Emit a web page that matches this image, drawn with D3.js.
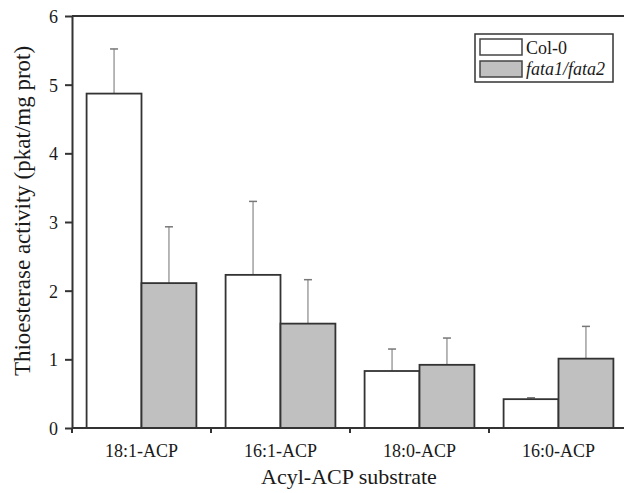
<!DOCTYPE html>
<meta charset="utf-8">
<script src="https://d3js.org/d3.v7.min.js"></script>
<style>
  body { margin: 0; background: #fff; }
  text { font-family: "Liberation Serif", "Times New Roman", serif; fill: #1a1a1a; }
</style>
<div id="dataviz"></div>
<script>

var categories = ["18:1-ACP", "16:1-ACP", "18:0-ACP", "16:0-ACP"];
var seriesNames = ["Col-0", "fata1/fata2"];
var col0 = [4.87, 2.23, 0.83, 0.42];
var col0Err = [0.65, 1.07, 0.32, 0.02];
var fata = [2.11, 1.52, 0.92, 1.01];
var fataErr = [0.82, 0.64, 0.39, 0.47];
var yTicks = [0, 1, 2, 3, 4, 5, 6];

var margin = {top: 16, right: -4, bottom: 65, left: 72},
    width = 624 - margin.left - margin.right,
    height = 493 - margin.top - margin.bottom;

var svg = d3.select("#dataviz")
  .append("svg")
    .attr("width", 624)
    .attr("height", 493)
  .append("g")
    .attr("transform", "translate(" + margin.left + "," + margin.top + ")");

var x = d3.scaleBand()
  .domain(categories)
  .range([0, width])
  .paddingInner(0.21)
  .paddingOuter(0.105);

var xSub = d3.scaleBand()
  .domain(seriesNames)
  .range([0, x.bandwidth()]);

var y = d3.scaleLinear()
  .domain([0, 6])
  .range([height, 0]);

var fills = {"Col-0": "#ffffff", "fata1/fata2": "#c0c0c0"};
var rows = categories.map(function(c, i) {
  return {cat: c, vals: [
    {s: "Col-0", v: col0[i], e: col0Err[i]},
    {s: "fata1/fata2", v: fata[i], e: fataErr[i]}
  ]};
});

// error bars (drawn first so bars cover the stem base)
var groups = svg.selectAll(".grp")
  .data(rows)
  .enter().append("g")
    .attr("transform", function(d) { return "translate(" + x(d.cat) + ",0)"; });

groups.selectAll(".err")
  .data(function(d) { return d.vals; })
  .enter().append("g")
  .each(function(d) {
    var g = d3.select(this);
    var cx = xSub(d.s) + xSub.bandwidth() / 2;
    g.append("line")
      .attr("x1", cx).attr("x2", cx)
      .attr("y1", y(d.v)).attr("y2", y(d.v + d.e))
      .attr("stroke", "#888").attr("stroke-width", 1.2);
    g.append("line")
      .attr("x1", cx - 4).attr("x2", cx + 4)
      .attr("y1", y(d.v + d.e)).attr("y2", y(d.v + d.e))
      .attr("stroke", "#777").attr("stroke-width", 1.5);
  });

groups.selectAll("rect")
  .data(function(d) { return d.vals; })
  .enter().append("rect")
    .attr("x", function(d) { return xSub(d.s); })
    .attr("y", function(d) { return y(d.v); })
    .attr("width", xSub.bandwidth())
    .attr("height", function(d) { return height - y(d.v); })
    .attr("fill", function(d) { return fills[d.s]; })
    .attr("stroke", "#333")
    .attr("stroke-width", 1.8);

// top frame line
svg.append("line")
  .attr("x1", 0).attr("x2", width)
  .attr("y1", 0).attr("y2", 0)
  .attr("stroke", "#333").attr("stroke-width", 2);

// Y axis
var yAxis = svg.append("g")
  .call(d3.axisLeft(y).tickValues(yTicks).tickFormat(d3.format("d"))
    .tickSize(7).tickPadding(7).tickSizeOuter(0));
yAxis.select(".domain").attr("stroke", "#333").attr("stroke-width", 2);
yAxis.selectAll(".tick line").attr("stroke", "#333").attr("stroke-width", 2);
yAxis.selectAll("text").style("font-size", "18px").attr("dy", "0.36em");

// X axis: ticks sit between the categories
var xAxis = svg.append("g")
  .attr("transform", "translate(0," + height + ")");
xAxis.append("line")
  .attr("x1", 0).attr("x2", width)
  .attr("stroke", "#333").attr("stroke-width", 2);
var bounds = categories.map(function(c, i) { return i * width / categories.length; });
bounds.push(width);
xAxis.selectAll(".xt")
  .data(bounds)
  .enter().append("line")
    .attr("x1", function(d) { return d; })
    .attr("x2", function(d) { return d; })
    .attr("y1", 0).attr("y2", 5)
    .attr("stroke", "#333").attr("stroke-width", 2);
xAxis.selectAll(".xl")
  .data(categories)
  .enter().append("text")
    .attr("x", function(d) { return x(d) + x.bandwidth() / 2; })
    .attr("y", 29)
    .attr("text-anchor", "middle")
    .style("font-size", "18px")
    .text(function(d) { return d; });

// axis titles
svg.append("text")
  .attr("x", 277)
  .attr("y", height + 56)
  .attr("text-anchor", "middle")
  .style("font-size", "22px")
  .text("Acyl-ACP substrate");

svg.append("text")
  .attr("transform", "rotate(-90)")
  .attr("x", -195)
  .attr("y", -42)
  .attr("text-anchor", "middle")
  .style("font-size", "23px")
  .text("Thioesterase activity (pkat/mg prot)");

// legend
var legend = svg.append("g").attr("transform", "translate(403,18)");
legend.append("rect")
  .attr("width", 138).attr("height", 48)
  .attr("fill", "none").attr("stroke", "#333").attr("stroke-width", 1.5);
seriesNames.forEach(function(s, i) {
  legend.append("rect")
    .attr("x", 5).attr("y", 5 + i * 22)
    .attr("width", 42).attr("height", 16)
    .attr("fill", fills[s]).attr("stroke", "#444").attr("stroke-width", 1.5);
  legend.append("text")
    .attr("x", 51).attr("y", 20 + i * 21)
    .style("font-size", "18px")
    .style("font-style", i === 1 ? "italic" : "normal")
    .text(s);
});

</script>
